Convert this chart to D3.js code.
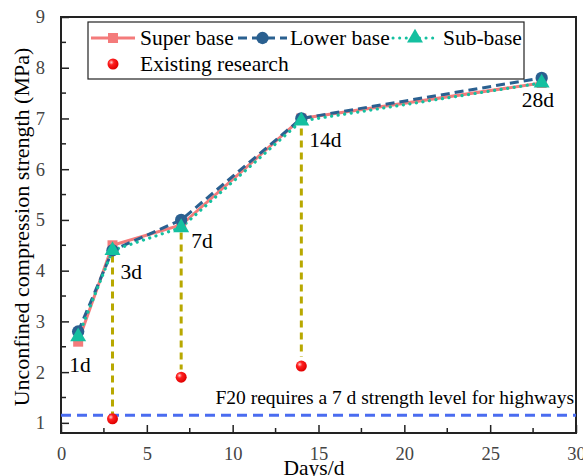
<!DOCTYPE html>
<html><head><meta charset="utf-8">
<script src="https://cdn.jsdelivr.net/npm/d3@7"></script>
<style>body{margin:0;background:#fff}svg{display:block}text{font-family:"Liberation Serif","Times New Roman",serif}</style>
</head><body><svg id="c" width="583" height="476"></svg>
<script>
const days = [1, 3, 7, 14, 28];
const dayLabels = ["1d", "3d", "7d", "14d", "28d"];
const superBase = [2.6, 4.5, 4.9, 7.0, 7.7];
const lowerBase = [2.8, 4.4, 5.0, 7.0, 7.8];
const subBase = [2.7, 4.4, 4.85, 6.95, 7.7];
const researchDays = [3, 7, 14];
const researchValues = [1.08, 1.9, 2.12];
const guideTop = [4.3, 4.75, 6.8];
const guideBottom = [1.15, 2.05, 2.3];
const requirement = 1.15;
const xTicks = [0, 5, 10, 15, 20, 25, 30];
const yTicks = [1, 2, 3, 4, 5, 6, 7, 8, 9];

const svg = d3.select("#c");
const L = 61, R = 576, T = 17, B = 433;
const x = d3.scaleLinear().domain([0, 30]).range([L, R]);
const y = d3.scaleLinear().domain([0.8, 9]).range([B, T]);
const FONT = "Liberation Serif";

const defs = svg.append("defs");
const g = defs.append("radialGradient").attr("id", "ball").attr("cx", "35%").attr("cy", "35%").attr("r", "65%");
g.append("stop").attr("offset", "0%").attr("stop-color", "#ffd0d0");
g.append("stop").attr("offset", "35%").attr("stop-color", "#ff2020");
g.append("stop").attr("offset", "100%").attr("stop-color", "#e00000");

// axes
const xAxis = d3.axisBottom(x).tickValues(xTicks).tickSize(-8).tickPadding(14).tickFormat(d3.format("d"));
const gx = svg.append("g").attr("transform", `translate(0,${B})`).call(xAxis);
const yAxis = d3.axisLeft(y).tickValues(yTicks).tickSize(-8).tickPadding(16);
const gy = svg.append("g").attr("transform", `translate(${L},0)`).call(yAxis);
const xMinor = d3.range(2.5, 30, 5);
svg.append("g").selectAll("line").data(xMinor).join("line")
  .attr("x1", d => x(d)).attr("x2", d => x(d)).attr("y1", B).attr("y2", B - 5)
  .attr("stroke", "#222").attr("stroke-width", 1.5);
const yMinor = d3.range(1.5, 9, 1);
svg.append("g").selectAll("line").data(yMinor).join("line")
  .attr("y1", d => y(d)).attr("y2", d => y(d)).attr("x1", L).attr("x2", L + 5)
  .attr("stroke", "#222").attr("stroke-width", 1.5);
[gx, gy].forEach(a => {
  a.attr("font-family", FONT);
  a.select(".domain").remove();
  a.selectAll(".tick line").attr("stroke", "#222").attr("stroke-width", 1.5);
  a.selectAll(".tick text").attr("font-size", 18.5).attr("fill", "#444");
});
gy.selectAll(".tick text").attr("dy", "0.32em");
svg.append("rect").attr("x", L).attr("y", T).attr("width", R - L).attr("height", B - T)
  .attr("fill", "none").attr("stroke", "#222").attr("stroke-width", 2);

// titles
svg.append("text").attr("x", 314).attr("y", 475).attr("text-anchor", "middle")
  .attr("font-size", 21.5).text("Days/d");
svg.append("text").attr("transform", `translate(29,${(T + B) / 2 + 2}) rotate(-90)`).attr("text-anchor", "middle")
  .attr("font-size", 22).text("Unconfined compression strength (MPa)");

// requirement line
svg.append("line").attr("x1", L).attr("x2", R).attr("y1", y(requirement)).attr("y2", y(requirement))
  .attr("stroke", "#4a6cf0").attr("stroke-width", 3).attr("stroke-dasharray", "10,6");
svg.append("text").attr("x", 574).attr("y", y(requirement) - 11).attr("text-anchor", "end")
  .attr("font-size", 19.5).text("F20 requires a 7 d strength level for highways");

// guide lines
svg.append("g").selectAll("line").data(researchDays).join("line")
  .attr("x1", d => x(d)).attr("x2", d => x(d))
  .attr("y1", (d, i) => y(guideTop[i])).attr("y2", (d, i) => y(guideBottom[i]))
  .attr("stroke", "#b8a800").attr("stroke-width", 3).attr("stroke-dasharray", "7,5");

// series
const line = d3.line().x((d, i) => x(days[i])).y(d => y(d));
const cSuper = "#f47b7b", cLower = "#2a6090", cSub = "#14c0a0";
svg.append("path").datum(superBase).attr("d", line).attr("fill", "none").attr("stroke", cSuper).attr("stroke-width", 3);
svg.append("path").datum(lowerBase).attr("d", line).attr("fill", "none").attr("stroke", cLower).attr("stroke-width", 3).attr("stroke-dasharray", "9,5");
svg.append("path").datum(subBase).attr("d", line).attr("fill", "none").attr("stroke", cSub).attr("stroke-width", 3.2).attr("stroke-dasharray", "0.1,6.5").attr("stroke-linecap", "round");

const sq = d3.symbol().type(d3.symbolSquare).size(100);
const ci = d3.symbol().type(d3.symbolCircle).size(120);
const tri = d3.symbol().type(d3.symbolTriangle).size(110);
svg.append("g").selectAll("path").data(superBase).join("path").attr("d", sq)
  .attr("transform", (d, i) => `translate(${x(days[i])},${y(d)})`).attr("fill", cSuper);
svg.append("g").selectAll("path").data(lowerBase).join("path").attr("d", ci)
  .attr("transform", (d, i) => `translate(${x(days[i])},${y(d)})`).attr("fill", cLower);
svg.append("g").selectAll("path").data(subBase).join("path").attr("d", tri)
  .attr("transform", (d, i) => `translate(${x(days[i])},${y(d)})`).attr("fill", cSub);

// research points
svg.append("g").selectAll("circle").data(researchValues).join("circle")
  .attr("cx", (d, i) => x(researchDays[i])).attr("cy", d => y(d)).attr("r", 5.5).attr("fill", "url(#ball)");

// day labels
const labelOff = [[-9, 40], [8, 29], [10, 28], [8, 29], [-20, 29]];
svg.append("g").selectAll("text").data(dayLabels).join("text")
  .attr("x", (d, i) => x(days[i]) + labelOff[i][0])
  .attr("y", (d, i) => y(lowerBase[i]) + labelOff[i][1])
  .attr("font-size", 21.5).text(d => d);

// legend
const lg = svg.append("g");
lg.append("rect").attr("x", 88).attr("y", 22).attr("width", 436).attr("height", 57)
  .attr("fill", "#fff").attr("stroke", "#222").attr("stroke-width", 1.2);
const r1 = 38, r2 = 64;
const items = [
  {x1: 91, x2: 135, name: "Super base", c: cSuper, dash: null, sym: sq, tx: 140},
  {x1: 238, x2: 287, name: "Lower base", c: cLower, dash: "9,5", sym: ci, tx: 290},
  {x1: 393, x2: 437, name: "Sub-base", c: cSub, dash: "0.1,6.5", sym: tri, tx: 443}
];
items.forEach(it => {
  lg.append("line").attr("x1", it.x1).attr("x2", it.x2).attr("y1", r1).attr("y2", r1)
    .attr("stroke", it.c).attr("stroke-width", 3).attr("stroke-dasharray", it.dash)
    .attr("stroke-linecap", it.dash && it.dash.startsWith("0.1") ? "round" : "butt");
  lg.append("path").attr("d", it.sym).attr("transform", `translate(${(it.x1 + it.x2) / 2},${r1})`).attr("fill", it.c);
  lg.append("text").attr("x", it.tx).attr("y", r1 + 7).attr("font-size", 21.5).text(it.name);
});
lg.append("circle").attr("cx", 113).attr("cy", r2).attr("r", 5.5).attr("fill", "url(#ball)");
lg.append("text").attr("x", 140).attr("y", r2 + 7).attr("font-size", 21.5).text("Existing research");
</script></body></html>
